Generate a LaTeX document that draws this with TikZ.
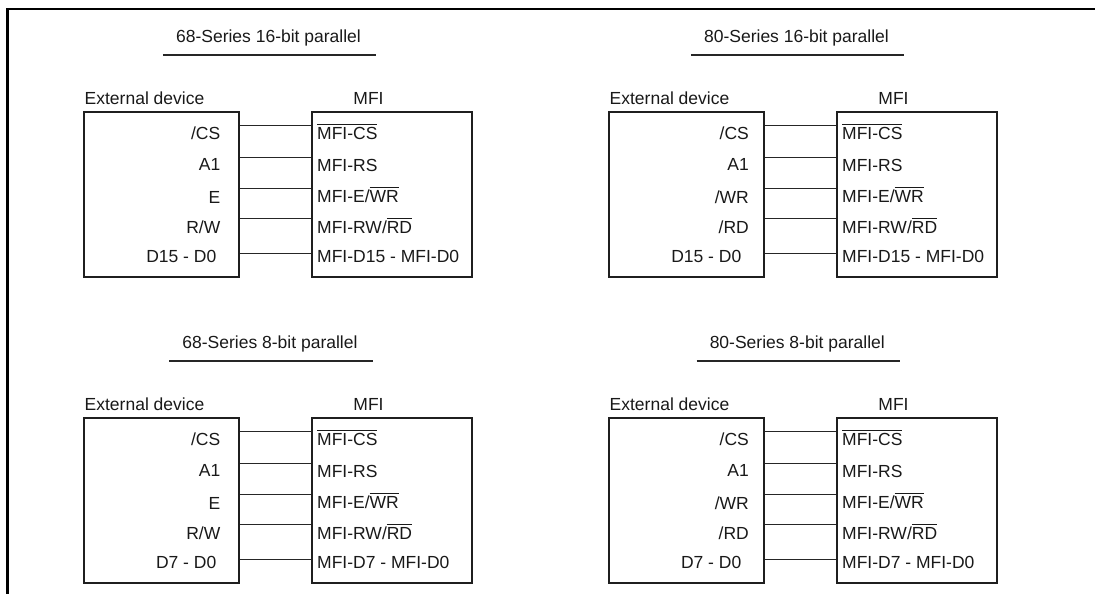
\documentclass[tikz,border=0pt]{standalone}
\usepackage{fontspec}
\setmainfont{Liberation Sans}
\newcommand\ovl[1]{\leavevmode\vbox{\hrule height 0.8pt\kern 2.6pt\hbox{#1}}}
\tikzset{
  lbl/.style={inner sep=0pt, text=black!90, font=\fontsize{17.5}{20}\selectfont},
  boxframe/.style={draw=black!88, line width=1.7pt, inner sep=0pt, minimum width=155pt, minimum height=165pt},
  wire/.style={line width=1pt, draw=black!85},
  ulstyle/.style={line width=1.2pt, draw=black!85},
  framestyle/.style={line width=2.4pt}
}
\newcommand\mfipanel[9]{%
\begin{scope}[shift={(#2,#3)}]
  \node[lbl, anchor=base] (t#1) at (#5,42.5) {#4};
  \path (t#1.west) ++(-13,0) coordinate (uw#1);
  \path (t#1.east) ++(15,0) coordinate (ue#1);
  \coordinate (uy#1) at (0,55);
  \draw[ulstyle] (uw#1 |- uy#1) -- (ue#1 |- uy#1);
  \node[lbl, anchor=base west] (el#1) at (84.5,104.5) {External device};
  \node[lbl, anchor=base] (ml#1) at (368.5,104.5) {MFI};
  \node[boxframe, anchor=north west] (e#1) at (83,111) {};
  \node[boxframe, minimum width=160pt, anchor=north west] (m#1) at (311,111) {};
  \foreach \k/\yy in {a/125,b/157,c/188,d/218,e/253} {
    \coordinate (s#1\k) at (0,\yy);
    \draw[wire] (e#1.east |- s#1\k) -- (m#1.west |- s#1\k);
  }
  \node[lbl, anchor=base east] (la#1) at (#6,139) {/CS};
  \node[lbl, anchor=base east] (lb#1) at (#6,170.5) {A1};
  \node[lbl, anchor=base east] (lc#1) at (#6,203) {#7};
  \node[lbl, anchor=base east] (ld#1) at (#6,233.5) {#8};
  \node[lbl, anchor=base east] (le#1) at (216.5,262) {D#9 - D0};
  \node[lbl, anchor=base west] (ra#1) at (317,139.5) {\ovl{MFI-CS}};
  \node[lbl, anchor=base west] (rb#1) at (317,171) {MFI-RS};
  \node[lbl, anchor=base west] (rc#1) at (317,202.5) {MFI-E/\ovl{WR}};
  \node[lbl, anchor=base west] (rd#1) at (317,233.5) {MFI-RW/\ovl{RD}};
  \node[lbl, anchor=base west] (re#1) at (317,262) {MFI-D#9 - MFI-D0};
\end{scope}}
\begin{document}
\begin{tikzpicture}[x=1pt,y=-1pt]
  \useasboundingbox (0,0) rectangle (1095,594);
  \draw[framestyle] (1095,9) -- (7.5,9) -- (7.5,594);
  \mfipanel{1}{0}{0}{68-Series 16-bit parallel}{268.5}{220.5}{E}{R/W}{15}
  \mfipanel{2}{525}{0}{80-Series 16-bit parallel}{271.5}{224}{/WR}{/RD}{15}
  \mfipanel{3}{0}{306}{68-Series 8-bit parallel}{270}{220.5}{E}{R/W}{7}
  \mfipanel{4}{525}{306}{80-Series 8-bit parallel}{272.3}{224}{/WR}{/RD}{7}
\end{tikzpicture}
\end{document}
